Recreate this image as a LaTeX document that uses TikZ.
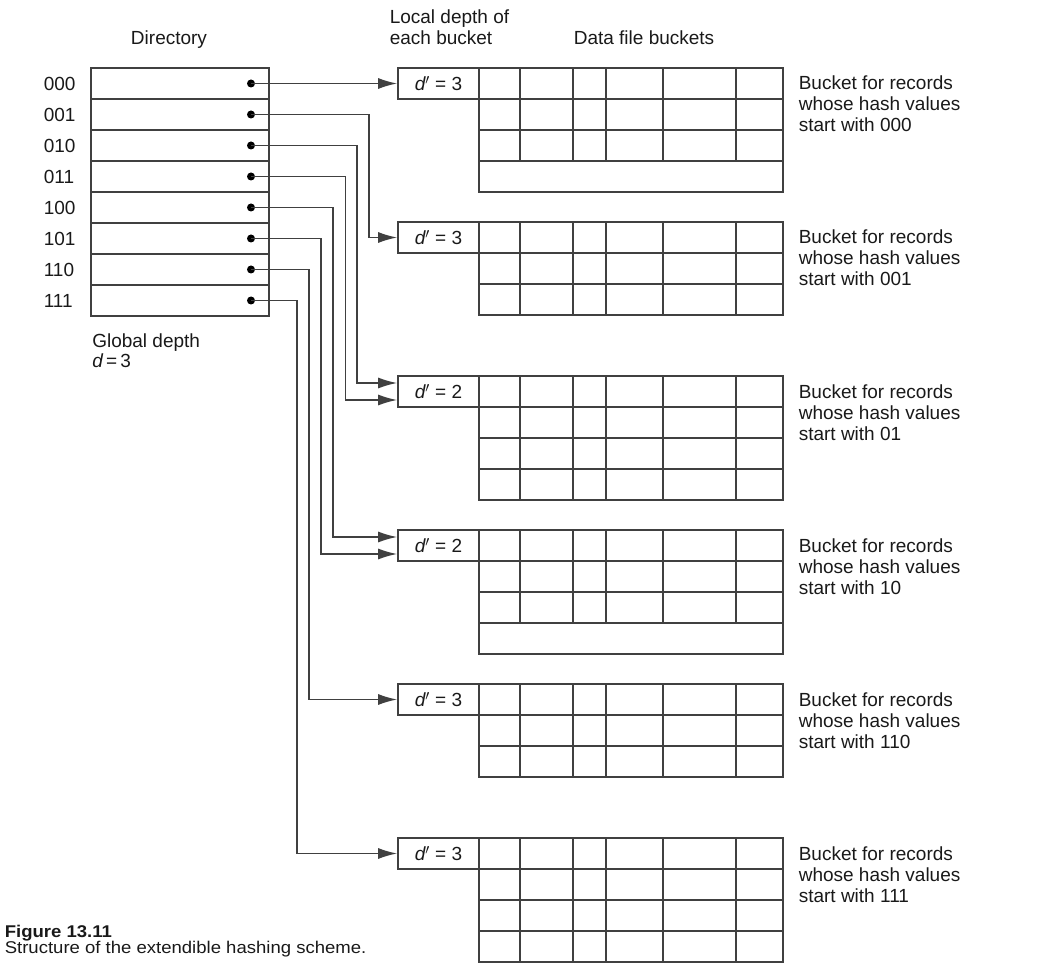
\documentclass[tikz,border=0pt]{standalone}
\usepackage{fontspec}
\setmainfont{Liberation Sans}
\newfontfamily\capfont{Liberation Sans}[FakeStretch=1.09]
\usetikzlibrary{arrows.meta}

\begin{document}
\begin{tikzpicture}[x=1pt,y=-1pt,line width=1.6pt,font=\fontsize{19}{21}\selectfont,text=black!90]
  \useasboundingbox (0,0) rectangle (1050,976);
  \tikzstyle{dircell}=[draw=black!75,minimum width=178pt,minimum height=31pt,inner sep=0pt]
  \tikzstyle{dot}=[circle,fill=black,inner sep=0pt,minimum size=8pt]
  \tikzstyle{ldbox}=[draw=black!75,minimum width=81pt,minimum height=31pt,inner sep=0pt]
  \tikzstyle{ptr}=[draw=black!75,-{Latex[length=19pt,width=11pt]}]
  \tikzstyle{note}=[align=left,anchor=base west,inner sep=0pt]
  % headings (base = last line)
  \node[anchor=base,inner sep=0pt] (hdir) at (169,45) {Directory};
  \node[note,font=\fontsize{19}{21.7}\selectfont] (hlocal) at (389,45) {Local depth of\\each bucket};
  \node[note] (hdata) at (573,45) {Data file buckets};
  % directory
  \foreach \code [count=\i from 0] in {000,001,010,011,100,101,110,111} {
    \node[dircell] (d\code) at (180,83.5+31*\i) {};
    \node[anchor=west,inner sep=0pt] (l\code) at (43,83.5+31*\i) {\code};
    \node[dot] (p\code) at (251,83.5+31*\i) {};
  }
  \node[note,font=\fontsize{19}{19.5}\selectfont] (gd) at (91.5,367) {Global depth\\{\itshape d}\,=\,3};
  % buckets: slot / gridded rows / empty row / local depth / prefix
  \foreach \k/\n/\e/\dv/\lbl [count=\j] in {0/3/1/3/000,1/3/0/3/001,2/4/0/2/01,3/3/1/2/10,4/3/0/3/110,5/4/0/3/111} {
    \pgfmathsetmacro\ytop{68+154*\k}
    \pgfmathsetmacro\gbot{\ytop+31*\n}
    \pgfmathsetmacro\ybot{\ytop+31*(\n+\e)}
    \pgfmathtruncatemacro\m{\n+\e-1}
    \node[ldbox] (b\j) at (438.5,\ytop+15.5) {{\itshape d}$'$ = \dv};
    \draw[black!75] (479,\ytop) rectangle (783,\ybot);
    \foreach \r in {1,...,\m}
      \draw[black!75] (479,\ytop+31*\r) -- (783,\ytop+31*\r);
    \foreach \cx in {520,573,606,663,736}
      \draw[black!75] (\cx,\ytop) -- (\cx,\gbot);
    \node[note] (t\j) at (798,\ytop+64) {Bucket for records\\whose hash values\\start with \lbl};
  }
  % pointers
  \coordinate (b3a) at ([yshift=8.5pt]b3.west);
  \coordinate (b3b) at ([yshift=-8.5pt]b3.west);
  \coordinate (b4a) at ([yshift=8.5pt]b4.west);
  \coordinate (b4b) at ([yshift=-8.5pt]b4.west);
  \draw[ptr] (p000.center) -- (b1.west);
  \foreach \src/\vx/\dst in {001/369/b2.west,010/357/b3a,011/345.5/b3b,100/333/b4a,101/321/b4b,110/309/b5.west,111/297/b6.west}
    \draw[ptr] (p\src.center) -| (\vx,0 |- \dst) -- (\dst);
  % caption
  \node[anchor=base west,inner sep=0pt,font=\capfont\fontsize{17}{16.5}\selectfont\bfseries] (fig) at (4,937) {Figure 13.11};
  \node[anchor=base west,inner sep=0pt,font=\capfont\fontsize{17}{16.5}\selectfont] (cap) at (4,953.3) {Structure of the extendible hashing scheme.};
\end{tikzpicture}
\end{document}
